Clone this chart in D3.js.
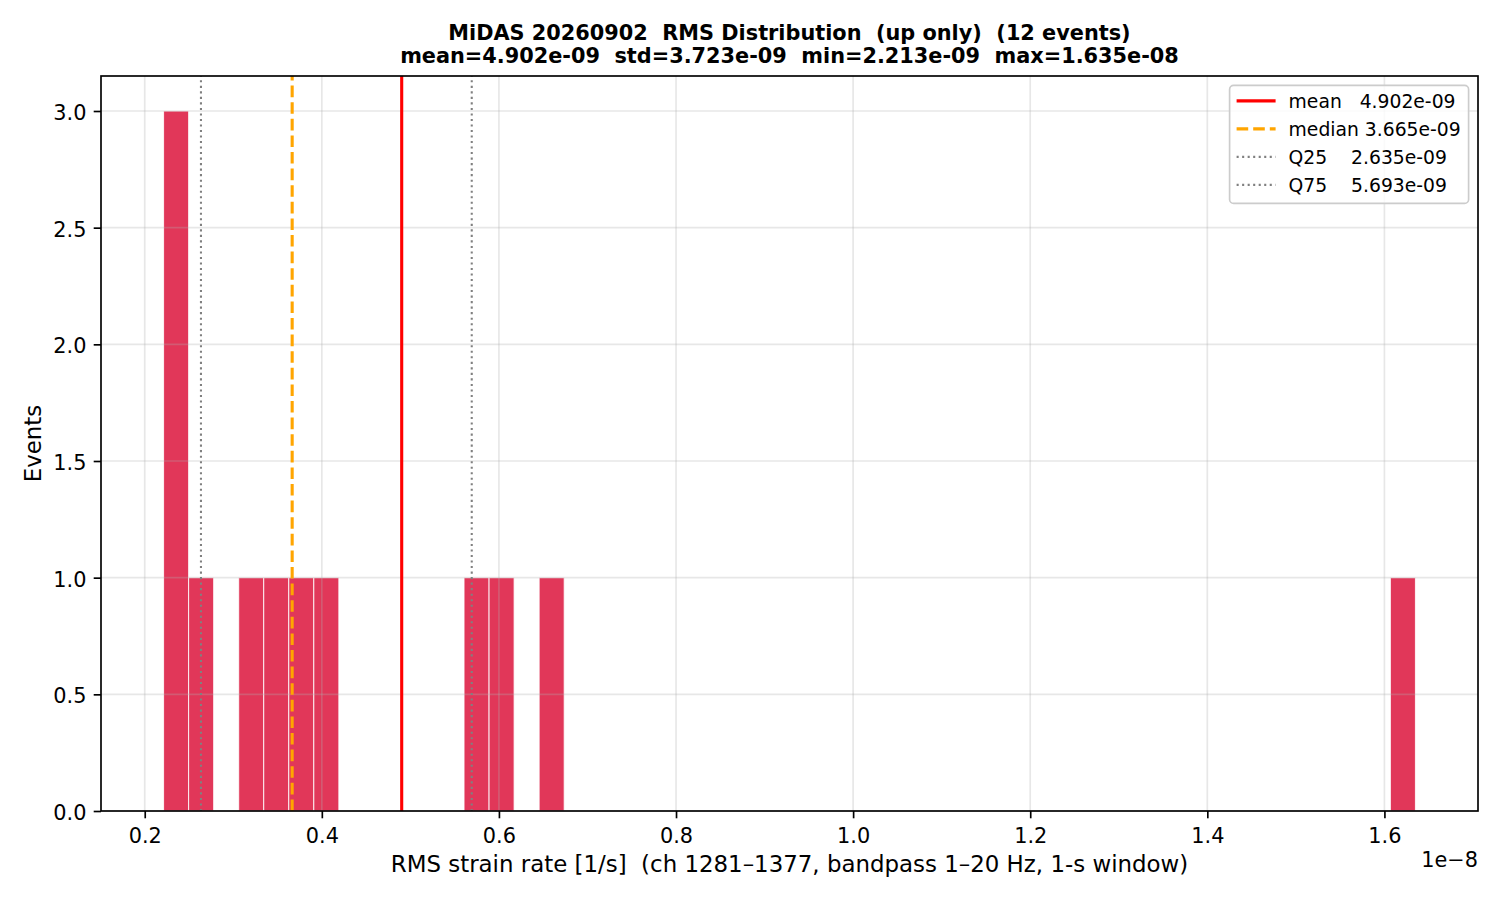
<!DOCTYPE html>
<html>
<head>
<meta charset="utf-8">
<script src="https://cdn.jsdelivr.net/npm/d3@7"></script>
<style>
  body { margin: 0; background: #fff; }
  svg text { font-family: "DejaVu Sans", sans-serif; fill: #000; white-space: pre; }
</style>
</head>
<body>
<div id="chart"></div>
<script>
// histogram of RMS strain rate, 50 bins between min and max
var rmsMin = 2.213e-9;
var rmsMax = 1.635e-8;
var nBins = 50;
// only the non-empty bins (bin number, count)
var binIndex = [0, 1, 3, 4, 5, 6, 12, 13, 15, 49];
var binCount = [3, 1, 1, 1, 1, 1, 1, 1, 1, 1];

var statNames = ["mean", "median", "Q25", "Q75"];
var statValues = [4.902e-9, 3.665e-9, 2.635e-9, 5.693e-9];
var statStd = 3.723e-9;

var xTicks = [0.2, 0.4, 0.6, 0.8, 1.0, 1.2, 1.4, 1.6]; // x 1e-8
var yTicks = [0, 0.5, 1.0, 1.5, 2.0, 2.5, 3.0];

var width = 1500, height = 900;
var plotL = 101, plotR = 1478, plotT = 76, plotB = 811;

var svg = d3.select("#chart").append("svg")
    .attr("width", width)
    .attr("height", height);

// matplotlib style 5% margins
var span = rmsMax - rmsMin;
var x = d3.scaleLinear()
    .domain([rmsMin - 0.05 * span, rmsMax + 0.05 * span])
    .range([plotL, plotR]);
var yMax = d3.max(binCount) * 1.05;
var y = d3.scaleLinear().domain([0, yMax]).range([plotB, plotT]);

var binW = span / nBins;
var bins = binIndex.map(function (b, i) {
    return { x0: rmsMin + b * binW, x1: rmsMin + (b + 1) * binW, n: binCount[i] };
});

// bars
svg.append("g").selectAll("rect")
    .data(bins)
    .enter()
    .append("rect")
    .attr("x", d => x(d.x0))
    .attr("y", d => y(d.n))
    .attr("width", d => x(d.x1) - x(d.x0))
    .attr("height", d => y(0) - y(d.n))
    .attr("fill", "#DC143C")
    .attr("fill-opacity", 0.85)
    .attr("stroke", "#fff")
    .attr("stroke-opacity", 0.85)
    .attr("stroke-width", 1);

// grid (drawn over the bars, like matplotlib)
var grid = svg.append("g").attr("stroke", "#b0b0b0").attr("stroke-opacity", 0.3).attr("stroke-width", 1.67);
grid.selectAll(".gx").data(xTicks).enter().append("line")
    .attr("x1", d => x(d * 1e-8)).attr("x2", d => x(d * 1e-8))
    .attr("y1", plotT).attr("y2", plotB);
grid.selectAll(".gy").data(yTicks).enter().append("line")
    .attr("x1", plotL).attr("x2", plotR)
    .attr("y1", d => y(d)).attr("y2", d => y(d));

// stat lines
var statStyle = [
    { color: "#ff0000", width: 3.1, dash: null },
    { color: "#FFA500", width: 3.1, dash: "11.6,5" },
    { color: "#808080", width: 2.08, dash: "2.08,3.44" },
    { color: "#808080", width: 2.08, dash: "2.08,3.44" }
];
svg.append("g").selectAll("line")
    .data(statValues)
    .enter()
    .append("line")
    .attr("x1", d => x(d)).attr("x2", d => x(d))
    .attr("y1", plotB).attr("y2", plotT)
    .attr("stroke", (d, i) => statStyle[i].color)
    .attr("stroke-width", (d, i) => statStyle[i].width)
    .attr("stroke-dasharray", (d, i) => statStyle[i].dash);

// axes
var xAxis = d3.axisBottom(x)
    .tickValues(xTicks.map(d => d * 1e-8))
    .tickFormat(d => (d / 1e-8).toFixed(1))
    .tickSize(7.3).tickPadding(5);
var gx = svg.append("g").attr("transform", "translate(0," + plotB + ")").call(xAxis);

var yAxis = d3.axisLeft(y)
    .tickValues(yTicks)
    .tickFormat(d3.format(".1f"))
    .tickSize(7.3).tickPadding(7.3);
var gy = svg.append("g").attr("transform", "translate(" + plotL + ",0)").call(yAxis);

[gx, gy].forEach(function (g) {
    g.select(".domain").remove();
    g.selectAll(".tick line").attr("stroke", "#000").attr("stroke-width", 1.67);
    g.selectAll(".tick text").style("font-size", "20.83px").attr("fill", "#000")
        .style("font-family", "'DejaVu Sans', sans-serif");
});
gx.selectAll(".tick text").attr("dy", null).attr("y", 31.5);
gy.selectAll(".tick text").attr("dy", "0.4em");

// frame
svg.append("rect")
    .attr("x", plotL).attr("y", plotT)
    .attr("width", plotR - plotL).attr("height", plotB - plotT)
    .attr("fill", "none").attr("stroke", "#000").attr("stroke-width", 1.67);

// offset text
svg.append("text")
    .attr("x", plotR).attr("y", 867)
    .attr("text-anchor", "end")
    .style("font-size", "20.83px")
    .text("1e\u22128");

// axis labels
svg.append("text")
    .attr("x", (plotL + plotR) / 2).attr("y", 872)
    .attr("text-anchor", "middle")
    .style("font-size", "22.9px")
    .text("RMS strain rate [1/s]  (ch 1281\u20131377, bandpass 1\u201320 Hz, 1-s window)");

svg.append("text")
    .attr("transform", "translate(41," + (plotT + plotB) / 2 + ") rotate(-90)")
    .attr("text-anchor", "middle")
    .style("font-size", "22.9px")
    .text("Events");

// title
var fmt = v => v.toExponential(3).replace(/e([+-])(\d)$/, "e$10$2");
var title = svg.append("g").attr("text-anchor", "middle")
    .style("font-size", "20.83px").style("font-weight", "bold");
title.append("text").attr("x", (plotL + plotR) / 2).attr("y", 40)
    .text("MiDAS 20260902  RMS Distribution  (up only)  (12 events)");
title.append("text").attr("x", (plotL + plotR) / 2).attr("y", 63)
    .text("mean=" + fmt(statValues[0]) + "  std=" + fmt(statStd) + "  min=" + fmt(rmsMin) + "  max=" + fmt(rmsMax));

// legend
var legW = 239, legH = 118;
var legX = plotR - 9.4 - legW, legY = plotT + 9.4;
var leg = svg.append("g").attr("transform", "translate(" + legX + "," + legY + ")");
leg.append("rect")
    .attr("width", legW).attr("height", legH)
    .attr("rx", 4).attr("ry", 4)
    .attr("fill", "#fff").attr("fill-opacity", 0.8)
    .attr("stroke", "#cccccc").attr("stroke-width", 1.67);

var labelPad = [3, 1, 4, 4];
var rows = leg.selectAll(".row")
    .data(statNames)
    .enter()
    .append("g")
    .attr("transform", (d, i) => "translate(0," + (15.5 + i * 28) + ")");
rows.append("line")
    .attr("x1", 7).attr("x2", 46)
    .attr("stroke", (d, i) => statStyle[i].color)
    .attr("stroke-width", (d, i) => statStyle[i].width)
    .attr("stroke-dasharray", (d, i) => statStyle[i].dash);
rows.append("text")
    .attr("x", 59).attr("dy", "0.36em")
    .style("font-size", "18.75px")
    .text((d, i) => d + " ".repeat(labelPad[i]) + fmt(statValues[i]));
</script>
</body>
</html>
